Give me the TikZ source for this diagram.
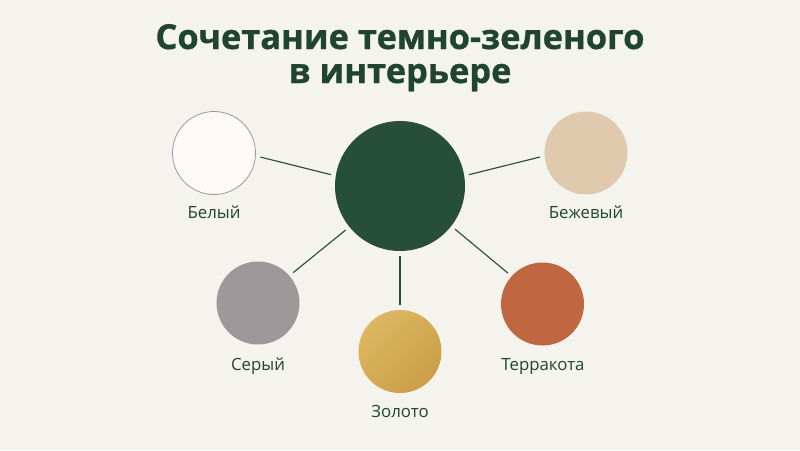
\documentclass[tikz,border=0pt]{standalone}
\usepackage{fontspec}
\setmainfont{Open Sans}
\newfontfamily\headfont{Open Sans}[BoldFeatures={FakeBold=0.9}]
\definecolor{bgcream}{HTML}{F5F3EE}
\definecolor{deepgreen}{HTML}{274D3B}
\definecolor{inkgreen}{HTML}{1F4432}
\definecolor{rimgray}{HTML}{9A9A9A}
\definecolor{chalk}{HTML}{FBFAF8}
\definecolor{ash}{HTML}{9B999A}
\definecolor{goldlight}{HTML}{DDB762}
\definecolor{golddark}{HTML}{CB9E47}
\definecolor{terra}{HTML}{BF6740}
\definecolor{sand}{HTML}{DFCAAE}
\begin{document}
\begin{tikzpicture}[x=0.75pt,y=0.75pt,yscale=-1,xscale=1,
  swatch/.style={circle,inner sep=0pt,minimum size=62.25pt},
  link/.style={draw=deepgreen,line width=0.85pt,shorten <=3.5pt,shorten >=3.5pt},
  colname/.style={anchor=base,text=inkgreen,font=\fontsize{12.6}{15}\selectfont},
  headline/.style={anchor=base,text=inkgreen,font=\fontsize{25.8}{30}\headfont\bfseries}]
%set diagram left start at 0, width 800 and height 450
\fill [bgcream] (0,0) rectangle (800,450);
\useasboundingbox (0,0) rectangle (800,450);

% Text Node
\node [headline] (title1) at (400,49) {Сочетание темно-зеленого};
% Text Node
\node [headline] (title2) at (400,83) {в интерьере};

%Shape: Circle [hub]
\node [swatch,fill=deepgreen,minimum size=97.5pt] (hub) at (400,186) {};
%Shape: Circle [white]
\node [swatch,fill=chalk,draw=rimgray,line width=0.6pt] (white) at (214,153) {};
%Shape: Circle [beige]
\node [swatch,fill=sand] (beige) at (586,153) {};
%Shape: Circle [gray]
\node [swatch,fill=ash] (gray) at (258,303) {};
%Shape: Circle [gold]
\node [swatch,top color=goldlight,bottom color=golddark,shading angle=45] (gold) at (400,351.5) {};
%Shape: Circle [terracotta]
\node [swatch,fill=terra] (terracotta) at (542.5,304) {};

%Straight Lines
\draw [link] (white.-4) -- (hub.171) ;
%Straight Lines
\draw [link] (hub.9) -- (beige.184) ;
%Straight Lines
\draw [link] (hub.219) -- (gray.41) ;
%Straight Lines
\draw [link] (hub.south) -- (gold.north) ;
%Straight Lines
\draw [link] (hub.-38) -- (terracotta.138) ;

% Text Node
\node [colname] (whitename) at (214,218) {Белый};
% Text Node
\node [colname] (beigename) at (586,218) {Бежевый};
% Text Node
\node [colname] (grayname) at (258,370) {Серый};
% Text Node
\node [colname] (goldname) at (400,417) {Золото};
% Text Node
\node [colname] (terracottaname) at (543,370) {Терракота};

\end{tikzpicture}
\end{document}
